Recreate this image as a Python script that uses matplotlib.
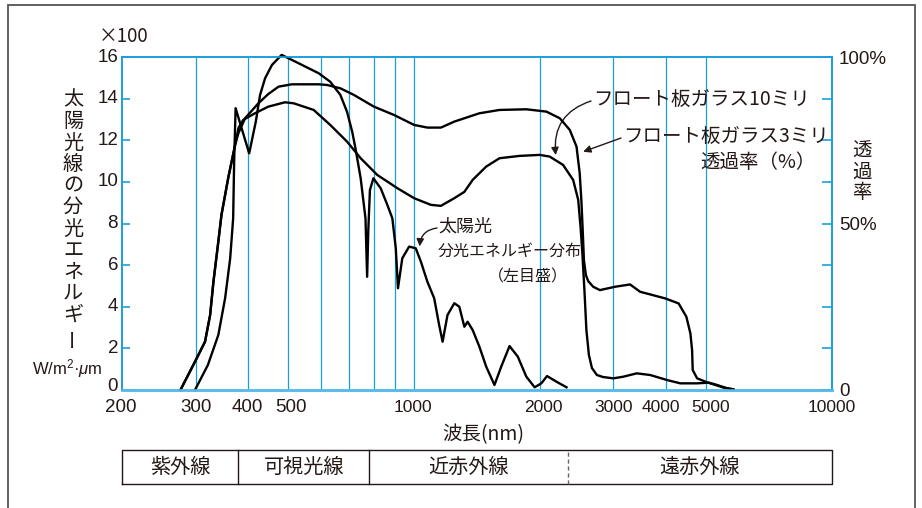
import numpy as np
import matplotlib.pyplot as plt
from matplotlib.patches import Rectangle
from matplotlib.lines import Line2D
from matplotlib.transforms import blended_transform_factory, ScaledTranslation

plt.rcParams['font.family'] = ['Noto Sans CJK JP', 'DejaVu Sans']
plt.rcParams['mathtext.fontset'] = 'custom'
plt.rcParams['mathtext.rm'] = 'Liberation Sans'
plt.rcParams['mathtext.it'] = 'Liberation Sans:italic'

# 太陽光の分光エネルギー (×100 W/m2·μm, 左目盛)
sun_wl = [299, 321, 340, 353, 363, 369, 371, 374, 403, 418, 428, 440, 457, 482, 510, 539,
          591, 630, 666, 691, 711, 724, 745, 765, 772, 777, 784, 799, 832, 863, 887, 904,
          915, 937, 973, 1009, 1038, 1076, 1117, 1148, 1170, 1202, 1248, 1283, 1319, 1343, 1381, 1433,
          1488, 1557, 1616, 1692, 1771, 1856, 1943, 2016, 2080, 2191, 2316]
sun_val = [0, 1.2, 2.64, 4.41, 6.33, 8.25, 10.97, 13.54, 11.37, 12.89, 14.18, 14.98, 15.62, 16.1, 15.86, 15.62,
           15.22, 14.81, 14.18, 13.37, 12.41, 11.61, 10.17, 8.25, 5.44, 7.69, 9.61, 10.17, 9.69, 8.89, 8.25, 6.81,
           4.89, 6.33, 6.89, 6.81, 6.17, 5.20, 4.41, 3.12, 2.32, 3.60, 4.17, 4.00, 3.04, 3.28, 2.88, 2.08,
           1.12, 0.24, 1.12, 2.11, 1.60, 0.64, 0.13, 0.32, 0.67, 0.40, 0.13]

# フロート板ガラス3ミリ 透過率(%)
g3_wl = [276, 299, 316, 325, 331, 340, 346, 359, 373, 380, 394, 424, 448, 474, 510, 591,
         619, 666, 718, 801, 895, 1000, 1076, 1159, 1248, 1319, 1433, 1601, 1856, 2073, 2232, 2358,
         2447, 2490, 2513, 2532, 2549, 2577, 2610, 2683, 2784, 3025, 3287, 3474, 3673, 3990, 4295, 4482,
         4583, 4626, 4642, 4756, 5026, 5263, 5509, 5804]
g3_val = [0, 8.5, 14.5, 22.5, 32.5, 44.5, 52.6, 63.6, 73.6, 77.2, 81.6, 86.1, 88.9, 91.1, 91.8, 91.8,
          91.6, 90.6, 88.6, 85.1, 82.6, 79.6, 78.8, 78.8, 80.6, 81.6, 83.1, 84.1, 84.3, 83.6, 81.6, 78.1,
          73.1, 65.2, 57.1, 48.0, 39.0, 34.5, 32.7, 31.0, 30.0, 31.0, 31.7, 29.5, 28.7, 27.5, 26.0, 22.0,
          17.0, 12.0, 6.0, 3.5, 2.3, 1.5, 0.7, 0.2]

# フロート板ガラス10ミリ 透過率(%)
g10_wl = [276, 299, 316, 325, 331, 340, 346, 359, 373, 380, 390, 416, 448, 491, 515, 575,
          630, 691, 745, 816, 912, 1000, 1097, 1159, 1248, 1319, 1381, 1488, 1601, 1788, 1998, 2111,
          2272, 2402, 2470, 2502, 2527, 2556, 2584, 2620, 2664, 2738, 2831, 2997, 3168, 3411, 3673, 4027,
          4336, 4756, 5071, 5311, 5615, 5804]
g10_val = [0, 8.5, 14.5, 22.5, 32.5, 44.5, 52.6, 63.6, 73.6, 78.7, 81.1, 83.1, 85.1, 86.4, 86.1, 84.1,
           79.6, 74.6, 69.6, 64.6, 60.6, 57.6, 55.6, 55.3, 57.6, 59.5, 63.1, 67.1, 69.6, 70.3, 70.6, 70.1,
           67.6, 63.1, 57.1, 49.0, 41.1, 30.0, 18.0, 10.5, 6.6, 4.5, 3.9, 3.5, 4.0, 5.0, 4.5, 3.0,
           2.0, 2.0, 2.2, 1.5, 0.5, 0.2]

grid_wl = [300, 400, 500, 600, 700, 800, 900, 1000, 2000, 3000, 4000, 5000]
xtick_vals = [200, 300, 400, 500, 1000, 2000, 3000, 4000, 5000, 10000]
xtick_labels = ['200', '300', '400', '500', '1000', '2000', '3000', '4000', '5000', '10000']
ytick_left = [0, 2, 4, 6, 8, 10, 12, 14, 16]
ytick_right = [0, 12.5, 25, 37.5, 50, 62.5, 75, 87.5, 100]
ytick_right_labels = ['0', '', '', '', '50%', '', '', '', '100%']

band_edges = [200, 380, 780, 2330, 10000]
band_names = ['紫外線', '可視光線', '近赤外線', '遠赤外線']

BLUE = '#1a9fdc'
INK = '#231815'
NUM = ['Liberation Sans', 'DejaVu Sans']

W, H = 922, 508
def fx(x):
    return x / W
def fy(y):
    return 1 - y / H
def shift(dx, dy):
    return ScaledTranslation(dx / 100, dy / 100, fig.dpi_scale_trans)

fig = plt.figure(figsize=(9.22, 5.08), dpi=100)

# 外枠
fig.patches.append(Rectangle((fx(8), fy(540)), fx(915) - fx(8), fy(5) - fy(540),
                             transform=fig.transFigure, fill=False, ec='#555555', lw=1.3))

ax = fig.add_axes([fx(122), fy(390), fx(832) - fx(122), fy(57) - fy(390)])
ax.set_xscale('log')
ax.vlines(grid_wl, 0, 16, colors=BLUE, lw=0.9, zorder=1)
ax.plot(sun_wl, sun_val, color='black', lw=1.7, zorder=3, clip_on=False, solid_joinstyle='round')
ax.set_xlim(200, 10000)
ax.set_ylim(0, 16)

ax2 = ax.twinx()
ax2.plot(g3_wl, g3_val, color='black', lw=1.7, clip_on=False, solid_joinstyle='round')
ax2.plot(g10_wl, g10_val, color='black', lw=1.7, clip_on=False, solid_joinstyle='round')
ax2.set_ylim(0, 100)
ax2.set_xlim(200, 10000)

for a in (ax, ax2):
    for s in a.spines.values():
        s.set_color(BLUE)
        s.set_linewidth(1.2)
    a.spines['bottom'].set_color('#55bbe8')
    a.spines['bottom'].set_linewidth(1.8)

# x目盛は文字だけ（長い数字は少し小さく、4000と5000は離す）
ax.set_xticks([])
ax.xaxis.set_minor_locator(plt.NullLocator())
tr = blended_transform_factory(ax.transData, fig.transFigure)
x_shift = {'200': -1, '500': 3, '1000': -1, '2000': 3, '4000': -5, '5000': 4}
for v, s in zip(xtick_vals, xtick_labels):
    ax.text(v, fy(407), s, transform=tr + shift(x_shift.get(s, 0), 0), ha='center', va='center',
            fontsize=13.5 if len(s) <= 3 else 12.5, color=INK, family=NUM, clip_on=False)

# 左目盛（文字は手で置く、0は少し上げる）
ax.set_yticks(ytick_left)
ax.set_yticklabels([])
ax.tick_params(axis='y', direction='in', length=6, width=1.2, color=BLUE)
tr_y = blended_transform_factory(ax.transAxes, ax.transData)
for v in ytick_left:
    ax.text(0, v, str(v), transform=tr_y + shift(-4, 3.5 if v == 0 else 0), ha='right', va='center',
            fontsize=13.5, color=INK, family=NUM, clip_on=False)

ax2.set_yticks(ytick_right)
ax2.set_yticklabels(ytick_right_labels)
ax2.tick_params(axis='y', direction='in', length=7, width=1.2, color=BLUE, pad=5,
                labelsize=13.5, labelcolor=INK)
for lbl in ax2.get_yticklabels():
    lbl.set_fontfamily(NUM)

# 軸ラベル
fig.text(fx(99), fy(37), '×100', fontsize=13.5, color=INK, ha='left', va='center')
fig.text(fx(32), fy(369), r'W/m$^2$·$\mu$m', fontsize=12, color=INK, ha='left', va='center',
         family=NUM)
fig.text(fx(483), fy(435), '波長(nm)', fontsize=14, color=INK, ha='center', va='center')

left_label = '太陽光線の分光エネルギー'
for i, ch in enumerate(left_label):
    fig.text(fx(73), fy(100 + 21.5 * i), ch, fontsize=14.5, color=INK, ha='center', va='center',
             rotation=90 if ch == 'ー' else 0)
for i, ch in enumerate('透過率'):
    fig.text(fx(862), fy(151 + 21 * i), ch, fontsize=14, color=INK, ha='center', va='center')

# 注記
fig.text(fx(593), fy(100), 'フロート板ガラス10ミリ', fontsize=14, color=INK, ha='left', va='center')
fig.text(fx(623), fy(137), 'フロート板ガラス3ミリ', fontsize=14, color=INK, ha='left', va='center')
fig.text(fx(700), fy(163), '透過率（%）', fontsize=14, color=INK, ha='left', va='center')
fig.text(fx(438), fy(227), '太陽光', fontsize=13, color=INK, ha='left', va='center')
fig.text(fx(438), fy(251), '分光エネルギー分布', fontsize=11.5, color=INK, ha='left', va='center')
fig.text(fx(488), fy(277), '（左目盛）', fontsize=11.5, color=INK, ha='left', va='center')

arrow = dict(arrowstyle='-|>', color=INK, lw=1, mutation_scale=11, shrinkA=0, shrinkB=0)
ax.annotate('', xy=(2182, 11.29), xytext=(fx(591), fy(101)), textcoords='figure fraction',
            arrowprops=dict(arrow, connectionstyle='arc3,rad=0.4'))
ax.annotate('', xy=(2539, 11.45), xytext=(fx(621), fy(138)), textcoords='figure fraction',
            arrowprops=dict(arrow, connectionstyle='arc3,rad=0'))
ax.annotate('', xy=(1031, 6.9), xytext=(fx(437), fy(228)), textcoords='figure fraction',
            arrowprops=dict(arrow, connectionstyle='arc3,rad=0.4'))

# 波長帯の表
yb0, yb1 = fy(484), fy(450)
fig.add_artist(Line2D([band_edges[0], band_edges[-1], band_edges[-1], band_edges[0], band_edges[0]],
                      [yb0, yb0, yb1, yb1, yb0], transform=tr, color=INK, lw=1))
for e in band_edges[1:3]:
    fig.add_artist(Line2D([e, e], [yb0, yb1], transform=tr, color=INK, lw=1))
fig.add_artist(Line2D([band_edges[3], band_edges[3]], [yb0, yb1], transform=tr, color='#666666',
                      lw=1, ls=(0, (3, 2))))
for i, name in enumerate(band_names):
    xc = np.sqrt(band_edges[i] * band_edges[i + 1])
    fig.text(xc, (yb0 + yb1) / 2, name, transform=tr, fontsize=14.5, color=INK,
             ha='center', va='center')

fig.savefig('out.png', dpi=100)
